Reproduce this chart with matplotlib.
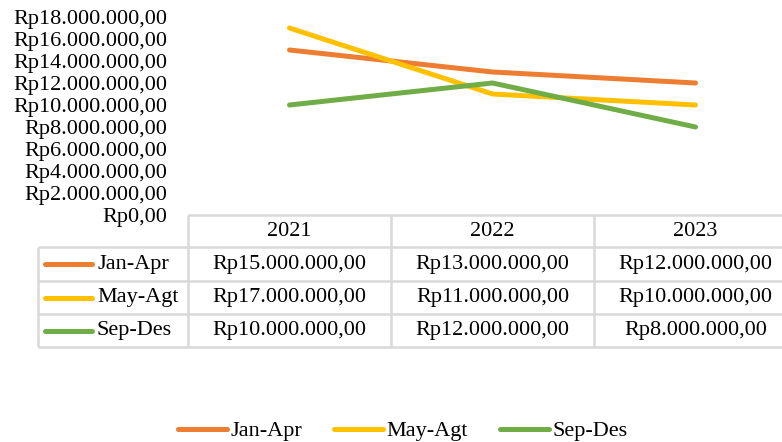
import numpy as np
import matplotlib.pyplot as plt
from matplotlib.ticker import FuncFormatter, MultipleLocator

plt.rcParams['font.family'] = ['Liberation Serif', 'DejaVu Serif']

years = ['2021', '2022', '2023']
series_names = ['Jan-Apr', 'May-Agt', 'Sep-Des']
jan_apr = [15000000, 13000000, 12000000]
may_agt = [17000000, 11000000, 10000000]
sep_des = [10000000, 12000000, 8000000]
colors = ['#ED7D31', '#FFC000', '#70AD47']


def rupiah(v, pos=None):
    s = f"{int(round(v)):,}".replace(",", ".")
    return f"Rp{s},00"


W, H = 782, 442
fig = plt.figure(figsize=(W / 100, H / 100), dpi=100)

# pixel layout
col_left = 188
col_w = 203
y0_px, ytop_px = 215, 17
row_edges = [215, 247, 281, 314, 347]
label_left = 38


def fx(px):
    return px / W


def fy(py):
    return 1 - py / H


ax = fig.add_axes([fx(col_left), fy(y0_px), fx(col_w * 3), (y0_px - ytop_px) / H])
ax.set_facecolor('none')
series = [jan_apr, may_agt, sep_des]
x = np.arange(len(years))
for name, vals, c in zip(series_names, series, colors):
    ax.plot(x, vals, color=c, lw=3.6, solid_capstyle='round', label=name)
ax.set_xlim(-0.5, len(years) - 0.5)
ax.set_ylim(0, 18000000)
ax.yaxis.set_major_locator(MultipleLocator(2000000))
ax.yaxis.set_major_formatter(FuncFormatter(rupiah))
ax.set_xticks([])
ax.tick_params(axis='y', length=0, pad=15, labelsize=16)
for sp in ax.spines.values():
    sp.set_visible(False)

# data table below the plot, in pixel coordinates
tab = fig.add_axes([0, 0, 1, 1])
tab.set_xlim(0, W)
tab.set_ylim(H, 0)
tab.axis('off')
tab.patch.set_visible(False)
grid = dict(color='#D9D9D9', lw=1.8, solid_capstyle='butt')
right = col_left + col_w * 3
tab.plot([col_left, right], [row_edges[0]] * 2, **grid)
for ry in row_edges[1:]:
    tab.plot([label_left, right], [ry, ry], **grid)
tab.plot([label_left, label_left], [row_edges[1], row_edges[-1]], **grid)
for i in range(len(years)):
    cx = col_left + col_w * i
    tab.plot([cx, cx], [row_edges[0], row_edges[-1]], **grid)

for i, yr in enumerate(years):
    cx = col_left + col_w * (i + 0.5)
    tab.text(cx, (row_edges[0] + row_edges[1]) / 2 + 1, yr, ha='center', va='center', fontsize=16)
for r, (name, vals, c) in enumerate(zip(series_names, series, colors)):
    cy = (row_edges[r + 1] + row_edges[r + 2]) / 2
    tab.plot([45, 92], [cy, cy], color=c, lw=3.6, solid_capstyle='round')
    tab.text(97, cy, name, ha='left', va='center', fontsize=16)
    for i, v in enumerate(vals):
        cx = col_left + col_w * (i + 0.5)
        tab.text(cx, cy, rupiah(v), ha='center', va='center', fontsize=16)

handles, labels = ax.get_legend_handles_labels()
fig.legend(handles, labels, loc='center', bbox_to_anchor=(fx(403), fy(431)), ncol=3,
           frameon=False, fontsize=16, handlelength=2.2, handletextpad=0.15,
           columnspacing=1.45)

fig.savefig('out.png', dpi=100)
